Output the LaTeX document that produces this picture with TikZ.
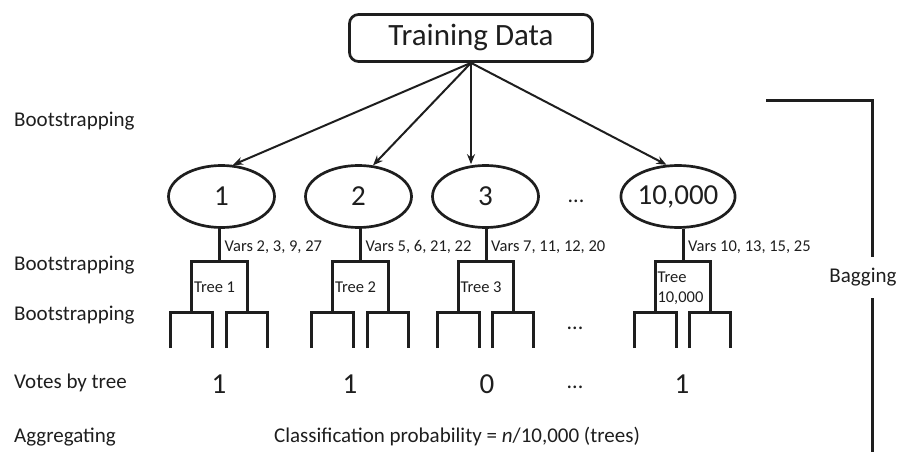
\documentclass[tikz,border=0pt]{standalone}
\usepackage{fontspec}
\setmainfont{Carlito}
\usetikzlibrary{shapes.geometric,arrows.meta}
\definecolor{ink}{HTML}{1E1E1E}
\newcommand{\fsz}[1]{\fontsize{#1}{#1}\selectfont}

\begin{document}
\begin{tikzpicture}[x=1pt,y=-1pt,
  every node/.style={text=ink, inner sep=0pt},
  heading/.style={font=\fsz{21}, anchor=base west},
  databox/.style={draw=ink, line width=2.7pt, rounded corners=9pt,
    minimum width=243pt, minimum height=47pt, font=\fsz{31}},
  sample/.style={ellipse, draw=ink, line width=2.7pt,
    minimum width=106pt, minimum height=62pt, font=\fsz{29}},
  treebox/.style={minimum width=55pt, minimum height=50pt},
  treeline/.style={draw=ink, line width=3pt},
  fanout/.style={draw=ink, line width=2pt, -{Stealth[length=10pt,width=8pt]}},
  smalltext/.style={font=\fsz{16.5}, anchor=base west},
  vote/.style={font=\fsz{29}, anchor=base},
  dots/.style={font=\fsz{22}, anchor=base},
]
\useasboundingbox (0,0) rectangle (911,452);

% row captions on the left
\node[heading] (c1) at (14,127) {Bootstrapping};
\node[heading] (c2) at (14,270) {Bootstrapping};
\node[heading] (c3) at (14,320) {Bootstrapping};
\node[heading] (c4) at (14,388) {Votes by tree};
\node[heading] (c5) at (14,442) {Aggregating};

% source data (text sits a little left of the box centre)
\node[databox] (td) at (471,38) {Training Data\hspace{18pt}};

% bootstrap samples
\node[sample] (e1) at (221.5,196.5) {1};
\node[sample] (e2) at (358.5,196.5) {2};
\node[sample] (e3) at (485.5,196.5) {3};
\node[sample] (e4) at (678,196.5) {10,000};
\node[dots] (d1) at (576,202) {...};

\draw[fanout] (td.south) -- (e1.70);
\draw[fanout] (td.south) -- (e2.65);
\draw[fanout] (td.south) -- (e3.north -| td.south);
\draw[fanout] (td.south) -- (e4.110);

% trees: stem, root box and two leaf pairs
\foreach \k/\cx in {1/219.5,2/360.5,3/486,4/683} {
  \node[treebox] (t\k) at (\cx,287) {};
  \draw[treeline] (t\k.north |- e\k.south) -- (t\k.north);
  \draw[treeline] (t\k.south west) |- (t\k.north east) -- (t\k.south east);
  \draw[treeline] ([shift={(-21,36)}]t\k.south west) |- ([xshift=21pt]t\k.south west) -- ++(0,36);
  \draw[treeline] ([shift={(-21,36)}]t\k.south east) |- ([xshift=20pt]t\k.south east) -- ++(0,36);
}
\node[dots] (d2) at (575,329) {...};

% variable subsets
\node[smalltext] (s1) at ([xshift=5pt]t1.north |- 0,251) {Vars 2, 3, 9, 27};
\node[smalltext] (s2) at ([xshift=5pt]t2.north |- 0,251) {Vars 5, 6, 21, 22};
\node[smalltext] (s3) at ([xshift=5pt]t3.north |- 0,251) {Vars 7, 11, 12, 20};
\node[smalltext] (s4) at ([xshift=5pt]t4.north |- 0,251) {Vars 10, 13, 15, 25};

% tree names
\node[smalltext] (n1) at ([xshift=2pt]t1.west |- 0,292) {Tree 1};
\node[smalltext] (n2) at ([xshift=2pt]t2.west |- 0,292) {Tree 2};
\node[smalltext] (n3) at ([xshift=2pt]t3.west |- 0,292) {Tree 3};
\node[smalltext] (n4a) at ([xshift=2pt]t4.west |- 0,282) {Tree};
\node[smalltext] (n4b) at ([xshift=2pt]t4.west |- 0,302) {10,000};

% votes
\node[vote] (v1) at (219,393) {1};
\node[vote] (v2) at (350,393) {1};
\node[vote] (v3) at (487,393) {0};
\node[dots] (d3) at (575,388) {...};
\node[vote] (v4) at (682,393) {1};

\node[font=\fsz{21}, anchor=base] (prob) at (457,442)
  {Classification probability = \textit{n}/10,000 (trees)};

% bagging bracket
\node[font=\fsz{21}, minimum height=41pt] (bag) at (863,277.5) {Bagging};
\coordinate (bagstart) at (766,101);
\coordinate (bagcorner) at (872,101);
\coordinate (bagend) at (872,452);
\draw[treeline] (bagstart) -- (bagcorner) -- (bagcorner |- bag.north);
\draw[treeline] (bagcorner |- bag.south) -- (bagend);
\end{tikzpicture}
\end{document}
